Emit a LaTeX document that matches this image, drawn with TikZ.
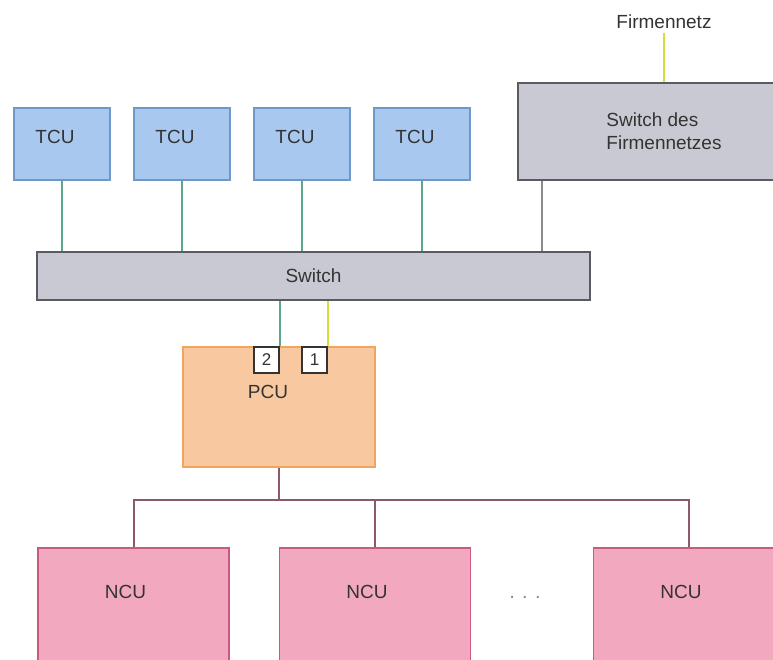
\documentclass[tikz,border=0pt]{standalone}
\usepackage{fontspec}
\setmainfont{Liberation Sans}
\usetikzlibrary{positioning,calc}
\definecolor{tcufill}{HTML}{A9C8F0}
\definecolor{tcudraw}{HTML}{6E98C8}
\definecolor{swfill}{HTML}{C9C9D3}
\definecolor{swdraw}{HTML}{5A5A60}
\definecolor{pcufill}{HTML}{F8C9A0}
\definecolor{pcudraw}{HTML}{F0A45C}
\definecolor{ncufill}{HTML}{F2A9C0}
\definecolor{ncudraw}{HTML}{C85A80}
\definecolor{teal}{HTML}{5BA88C}
\definecolor{lime}{HTML}{D2DE3C}
\definecolor{wire}{HTML}{8A8A8E}
\definecolor{tree}{HTML}{8A5A6C}
\definecolor{dark}{HTML}{333333}
\tikzset{
  box/.style={draw, line width=1.6pt, text=dark, inner sep=0pt, font=\fontsize{19}{23}\selectfont},
  boxtext/.style={text=dark, font=\fontsize{19}{23}\selectfont},
  tcubox/.style={box, fill=tcufill, draw=tcudraw, minimum width=96pt, minimum height=72pt},
  swbox/.style={box, fill=swfill, draw=swdraw},
  pcubox/.style={box, fill=pcufill, draw=pcudraw, minimum width=192pt, minimum height=120pt},
  ncubox/.style={box, fill=ncufill, draw=ncudraw, minimum width=191pt, minimum height=130pt},
  portbox/.style={box, fill=white, draw=dark, line width=1.2pt, minimum width=25pt, minimum height=26pt, font=\fontsize{17}{19}\selectfont},
  tculine/.style={draw=teal, line width=2pt},
  netline/.style={draw=lime, line width=2pt},
  greyline/.style={draw=wire, line width=2pt},
  treeline/.style={draw=tree, line width=2pt}
}

\begin{document}
\begin{tikzpicture}[x=1pt, y=-1pt]
  \useasboundingbox (0,0) rectangle (773,660);
  \clip (0,0) rectangle (773,660);
  % TCUs and company network
  \foreach \i/\x in {1/62, 2/182, 3/302, 4/422}
    \node[tcubox, label={[boxtext, xshift=-7pt, yshift=7pt]center:TCU}] (tcu\i) at (\x,144) {};
  \node[swbox, minimum width=292pt, minimum height=97pt, align=left] (fswitch) at (664,131.5) {Switch des\\Firmennetzes};
  \node[boxtext, inner sep=4pt] (fnetz) at (664,22) {Firmennetz};
  \node[swbox, minimum width=553pt, minimum height=48pt] (switch) at (313.5,276) {Switch};
  % PCU with its ports
  \node[pcubox, label={[boxtext, xshift=-11pt, yshift=15pt]center:PCU}] (pcu) at (279,407) {};
  \node[portbox] (port2) at (266.5,360) {2};
  \node[portbox] (port1) at (314.5,360) {1};
  % NCUs
  \foreach \i/\x in {1/133.5, 2/375, 3/689}
    \node[ncubox, label={[boxtext, yshift=-55pt, xshift=-8pt]north:NCU}] (ncu\i) at (\x,613) {};
  \node[text=wire, font=\fontsize{20}{22}\selectfont] (dots) at (525,597) {. . .};
  % links
  \foreach \i in {1,...,4}
    \draw[tculine] (tcu\i.south) -- (tcu\i.south |- switch.north);
  \draw[greyline] ($(fswitch.south west)+(25,0)$) coordinate (fs) -- (fs |- switch.north);
  \draw[netline] (fnetz.south) -- (fswitch.north);
  \draw[tculine] (port2.north east) -- (port2.north east |- switch.south);
  \draw[netline] (port1.north east) -- (port1.north east |- switch.south);
  \draw[treeline] (pcu.south) -- (pcu.south |- 0,500) coordinate (hub);
  \draw[treeline] (ncu1.north) |- (hub) -| (ncu3.north);
  \draw[treeline] (ncu2.north) -- (ncu2.north |- hub);
\end{tikzpicture}
\end{document}
